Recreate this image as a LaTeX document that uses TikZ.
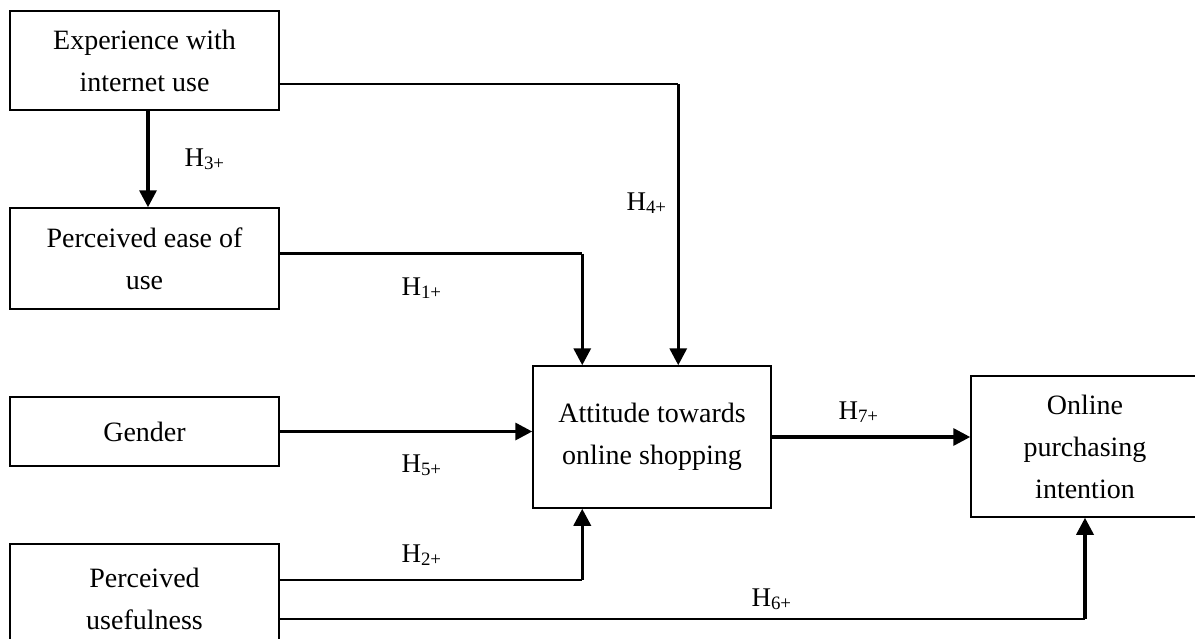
\documentclass[tikz,border=0pt]{standalone}
\usepackage{fontspec}
\setmainfont{Liberation Serif}
\usetikzlibrary{arrows.meta,calc}
\begin{document}
\begin{tikzpicture}[x=1pt,y=-1pt,
  box/.style={draw, line width=1.5pt, rectangle, inner sep=0pt, align=center,
    font=\fontsize{28}{42}\selectfont},
  conn/.style={line width=2.4pt},
  arr/.style={line width=3.4pt, -{Triangle[length=17pt,width=17pt]}},
  hlab/.style={anchor=base west, font=\fontsize{27}{32}\selectfont}]
\clip (0,0) rectangle (1195,638);
\useasboundingbox (0,0) rectangle (1195,638);
% boxes
\node[box, minimum width=269pt, minimum height=99pt] (exp) at (144.5,60.5) {\raisebox{0pt}{Experience with}\\internet use};
\node[box, minimum width=269pt, minimum height=101pt] (peou) at (144.5,258.5) {Perceived ease of\\use};
\node[box, minimum width=269pt, minimum height=69pt] (gen) at (144.5,431.5) {Gender};
\node[box, minimum width=269pt, minimum height=110pt] (pu) at (144.5,599) {Perceived\\usefulness};
\node[box, minimum width=238pt, minimum height=142pt] (att) at (652,437) {Attitude towards\\online shopping};
\node[box, minimum width=228pt, minimum height=141pt] (oi) at (1085,446.5) {Online\\purchasing\\intention};
% helper coordinates
\coordinate (expout) at ($(exp.south east)+(0,-27)$);
\coordinate (peouout) at ($(peou.east)+(0,-5)$);
\coordinate (puout1) at ($(pu.north east)+(0,37)$);
\coordinate (puout2) at ($(pu.north east)+(0,76)$);
\coordinate (attin1) at ($(att.north west)+(50,0)$);
\coordinate (attin2) at ($(att.north west)+(146,0)$);
\coordinate (attin3) at ($(att.south west)+(50,0)$);
\coordinate (elbow1) at (expout -| attin2);
\coordinate (elbow2) at (peouout -| attin1);
\coordinate (elbow3) at (puout1 -| attin3);
\coordinate (elbow4) at (puout2 -| oi.south);
% connectors
\draw[arr] ($(exp.south)+(3.5,0)$) -- ($(peou.north)+(3.5,0)$);
\draw[conn] (expout) -- (elbow1);
\draw[arr] (elbow1) -- (attin2);
\draw[conn] (peouout) -- (elbow2);
\draw[arr] (elbow2) -- (attin1);
\draw[arr] (gen.east) -- (gen.east -| att.west);
\draw[conn] (puout1) -- (elbow3);
\draw[arr] (elbow3) -- (attin3);
\draw[conn] (puout2) -- (elbow4);
\draw[arr] (elbow4) -- (oi.south);
\draw[arr] (att.east) -- (att.east -| oi.west);
% labels
\node[hlab] (h3) at (181,166) {H\textsubscript{3+}};
\node[hlab] (h4) at (623,210) {H\textsubscript{4+}};
\node[hlab] (h1) at (398,295) {H\textsubscript{1+}};
\node[hlab] (h5) at (398,472) {H\textsubscript{5+}};
\node[hlab] (h2) at (398,562) {H\textsubscript{2+}};
\node[hlab] (h6) at (748,606) {H\textsubscript{6+}};
\node[hlab] (h7) at (835,419) {H\textsubscript{7+}};
\end{tikzpicture}
\end{document}
